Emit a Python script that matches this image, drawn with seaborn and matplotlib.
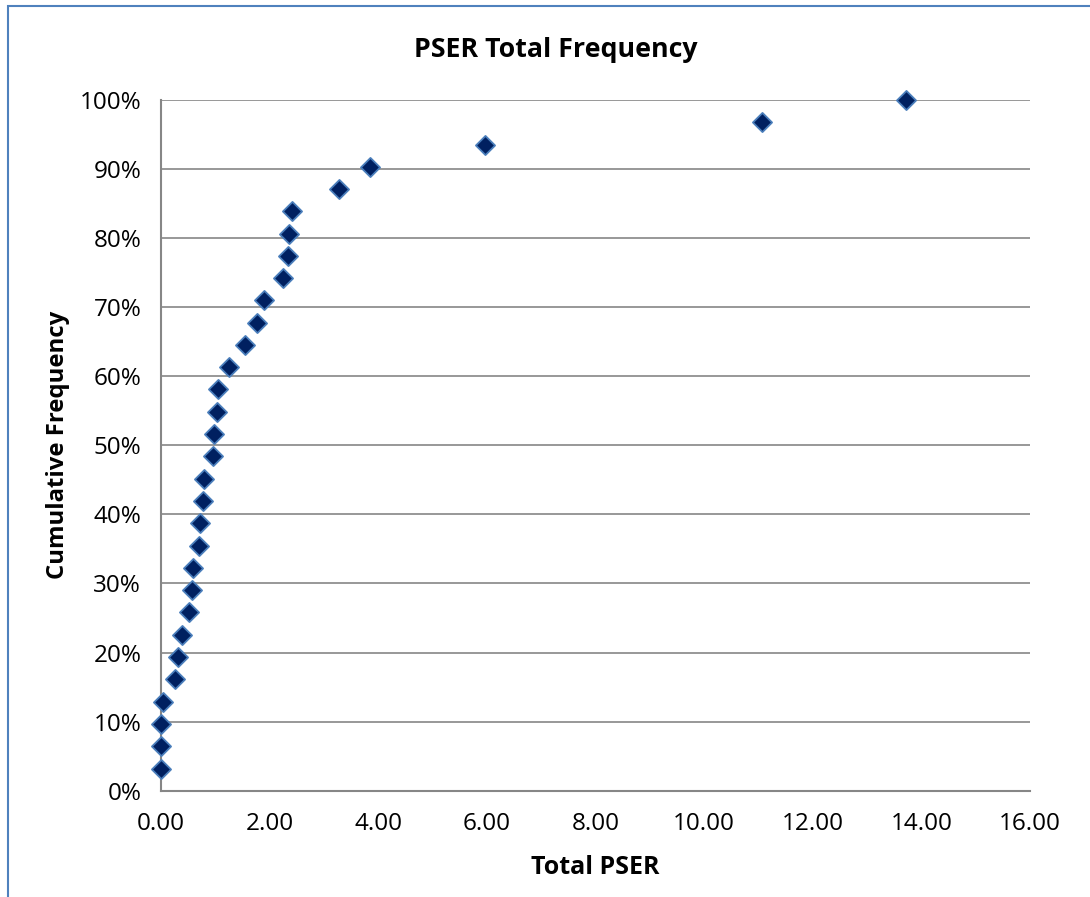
import matplotlib
matplotlib.use("Agg")
import matplotlib.pyplot as plt
from matplotlib.patches import Rectangle
from matplotlib.ticker import FuncFormatter, MultipleLocator
import pandas as pd
import seaborn as sns

# Total PSER per record, sorted ascending
total_pser = [0.00, 0.00, 0.00, 0.04, 0.26, 0.31, 0.40, 0.53, 0.57, 0.60,
              0.70, 0.72, 0.77, 0.80, 0.96, 0.98, 1.04, 1.05, 1.26, 1.55,
              1.78, 1.90, 2.26, 2.34, 2.36, 2.42, 3.29, 3.86, 5.96, 11.07,
              13.71]
# Cumulative frequency (%) at each record
cum_freq = [3.2, 6.5, 9.7, 12.9, 16.1, 19.4, 22.6, 25.8, 29.0, 32.3,
            35.5, 38.7, 41.9, 45.2, 48.4, 51.6, 54.8, 58.1, 61.3, 64.5,
            67.7, 71.0, 74.2, 77.4, 80.6, 83.9, 87.1, 90.3, 93.5, 96.8,
            100.0]

title = "PSER Total Frequency"
x_label = "Total PSER"
y_label = "Cumulative Frequency"

df = pd.DataFrame({"pser": total_pser, "freq": cum_freq})

sns.set_style("white")
plt.rcParams["font.family"] = ["Open Sans", "DejaVu Sans"]
plt.rcParams["text.color"] = "black"
plt.rcParams["axes.labelcolor"] = "black"

W, H = 1090, 897
fig = plt.figure(figsize=(W / 100, H / 100), dpi=100)
ax_l, ax_r, ax_t, ax_b = 160.7, 1030.0, 100.0, 790.7
ax = fig.add_axes([ax_l / W, 1 - ax_b / H, (ax_r - ax_l) / W, (ax_b - ax_t) / H])

grey = "#868686"
ax.set_xlim(0, 16)
ax.set_ylim(0, 100)
ax.yaxis.set_major_locator(MultipleLocator(10))
ax.xaxis.set_major_locator(MultipleLocator(2))
ax.yaxis.set_major_formatter(FuncFormatter(lambda v, p: f"{v:.0f}%"))
ax.xaxis.set_major_formatter(FuncFormatter(lambda v, p: f"{v:.2f}"))
ax.grid(axis="y", color=grey, linewidth=1.2)
ax.grid(axis="x", visible=False)
ax.set_axisbelow(True)

for side in ("top", "right"):
    ax.spines[side].set_visible(False)
for side in ("left", "bottom"):
    ax.spines[side].set_color(grey)
    ax.spines[side].set_linewidth(1.5)

ax.tick_params(axis="both", which="major", direction="out", length=6,
               width=1.2, color=grey, labelsize=17.5, labelcolor="black")
ax.tick_params(axis="y", pad=8)
ax.tick_params(axis="x", pad=9)

sns.scatterplot(data=df, x="pser", y="freq", marker="D", s=95,
                color="#002060", edgecolor="#4A7EBB", linewidth=1.3,
                clip_on=False, zorder=5, ax=ax)

ax.set_xlabel(x_label, fontsize=18, fontweight="bold", va="baseline")
ax.set_ylabel(y_label, fontsize=17.2, fontweight="bold", va="baseline")
ax.xaxis.set_label_coords(0.5, (ax_b - 874.3) / (ax_b - ax_t))
ax.yaxis.set_label_coords((64 - ax_l) / (ax_r - ax_l), 0.5)

fig.text(555.5 / W, 1 - 57 / H, title, ha="center", va="baseline",
         fontsize=19.3, fontweight="bold")

# chart border
fig.patches.append(Rectangle((8 / W, -0.1), 1.2, 1 - 6 / H + 0.1,
                             transform=fig.transFigure, fill=False,
                             edgecolor="#4F81BD", linewidth=1.5))

fig.savefig("out.png", dpi=100)
